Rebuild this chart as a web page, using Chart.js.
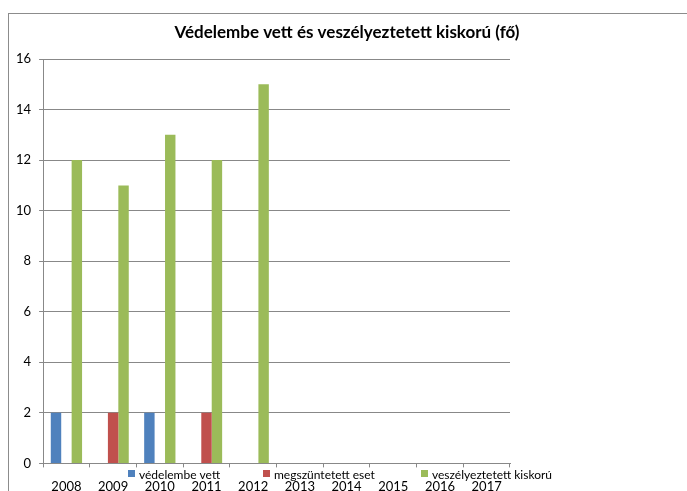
<!DOCTYPE html>
<html>
<head>
<meta charset="utf-8">
<script src="https://cdn.jsdelivr.net/npm/chart.js@4"></script>
<style>
  html, body { margin: 0; padding: 0; background: #fff; }
  #wrap { width: 687px; height: 491px; position: relative; }
</style>
</head>
<body>
<div id="wrap"><canvas id="chart"></canvas></div>
<script>
// Chart data
const years = ['2008', '2009', '2010', '2011', '2012', '2013', '2014', '2015', '2016', '2017'];
const vedelembeVett = [2, null, 2, null, null, null, null, null, null, null];
const megszuntetett = [null, 2, null, 2, null, null, null, null, null, null];
const veszelyeztetett = [12, 11, 13, 12, 15, null, null, null, null, null];
const yTicks = [0, 2, 4, 6, 8, 10, 12, 14, 16];

const chartTitle = 'Védelembe vett és veszélyeztetett kiskorú (fő)';
const FONT = 'Lato, "Open Sans", sans-serif';

// Frame, title and legend drawn the way the spreadsheet export placed them
const framePlugin = {
    id: 'frame',
    beforeDraw(chart) {
        const ctx = chart.ctx;
        ctx.save();
        ctx.strokeStyle = '#8c8c8c';
        ctx.lineWidth = 1;
        ctx.strokeRect(8.5, 13.5, 690, 500);
        ctx.restore();
    },
    afterDraw(chart) {
        const ctx = chart.ctx;
        ctx.save();
        ctx.fillStyle = '#000';
        ctx.font = 'bold 17px ' + FONT;
        ctx.textAlign = 'center';
        ctx.textBaseline = 'middle';
        ctx.fillText(chartTitle, 347, 33);

        // legend row overlapping the axis labels
        const legendX = [128, 263, 421];
        ctx.font = '12px ' + FONT;
        ctx.textAlign = 'left';
        chart.data.datasets.forEach((ds, i) => {
            ctx.fillStyle = ds.backgroundColor;
            ctx.fillRect(legendX[i], 470, 7, 7);
            ctx.fillStyle = '#000';
            ctx.fillText(ds.label, legendX[i] + 11, 475);
        });
        ctx.restore();
    }
};

new Chart(document.getElementById('chart'), {
    type: 'bar',
    data: {
        labels: years,
        datasets: [{
            label: 'védelembe vett',
            data: vedelembeVett,
            backgroundColor: '#4F81BD'
        }, {
            label: 'megszüntetett eset',
            data: megszuntetett,
            backgroundColor: '#C0504D'
        }, {
            label: 'veszélyeztetett kiskorú',
            data: veszelyeztetett,
            backgroundColor: '#9BBB59'
        }]
    },
    options: {
        responsive: true,
        maintainAspectRatio: false,
        animation: false,
        categoryPercentage: 0.67,
        barPercentage: 1.0,
        layout: {
            padding: { left: 8, right: 177, top: 59, bottom: -16 }
        },
        plugins: {
            legend: { display: false },
            title: { display: false },
            tooltip: { enabled: false }
        },
        scales: {
            x: {
                grid: {
                    drawOnChartArea: false,
                    tickLength: 4,
                    color: '#888'
                },
                border: { color: '#888' },
                ticks: {
                    color: '#000',
                    font: { family: FONT, size: 13 },
                    padding: 12,
                    maxRotation: 0,
                    autoSkip: false
                }
            },
            y: {
                min: 0,
                max: 16,
                afterBuildTicks(scale) {
                    scale.ticks = yTicks.map(v => ({ value: v }));
                },
                grid: {
                    color: '#888',
                    tickLength: 4
                },
                border: { color: '#888' },
                ticks: {
                    color: '#000',
                    font: { family: FONT, size: 13 },
                    padding: 8
                }
            }
        }
    },
    plugins: [framePlugin]
});
</script>
</body>
</html>
